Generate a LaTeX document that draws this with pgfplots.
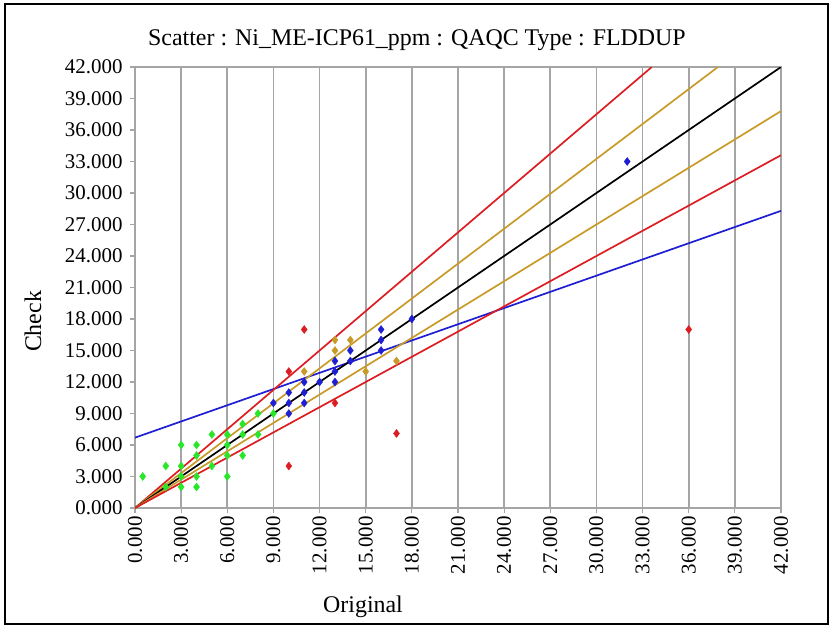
\documentclass[border=0pt]{standalone}
\usepackage{pgfplots}
\pgfplotsset{compat=1.18}
\usepackage{fontspec}
\setmainfont{Liberation Serif}
\definecolor{cred}{RGB}{220,30,35}
\definecolor{cgold}{RGB}{200,155,40}
\definecolor{cblue}{RGB}{30,30,210}
\definecolor{cgreen}{RGB}{40,230,40}
\definecolor{cgrid}{RGB}{165,165,165}
\begin{document}
\begin{tikzpicture}
\begin{axis}[
  scale only axis,
  width=646bp, height=441bp,
  xmin=0, xmax=42, ymin=0, ymax=42,
  xtick={0,3,...,42}, ytick={0,3,...,42},
  clip=true,
  axis line style={cgrid, line width=1.6bp},
  xmajorgrids, major grid style={cgrid, line width=1.8bp},
  tick pos=left, tick align=outside, major tick length=5bp,
  tick style={cgrid, line width=1.2bp},
  /pgf/number format/assume math mode=true,
  /pgf/number format/.cd, fixed, fixed zerofill, precision=3, /pgfplots/.cd,
  ticklabel style={font=\fontsize{21}{24}\selectfont},
  xticklabel style={rotate=90, anchor=east},
  yticklabel style={xshift=-4bp},
  xlabel={Original}, ylabel={Check},
  every axis x label/.style={at={(axis description cs:0.353,-0.224)}, anchor=center, font=\fontsize{24}{28}\selectfont},
  every axis y label/.style={at={(axis description cs:-0.158,0.423)}, anchor=center, rotate=90, font=\fontsize{24}{28}\selectfont},
  title={Scatter : Ni\_ME-ICP61\_ppm : QAQC Type : FLDDUP},
  title style={font=\fontsize{24}{28}\selectfont, at={(axis description cs:0.4365,1.048)}, anchor=center},
  every mark/.append style={xscale=1.2},
]
% reference lines
\addplot[cblue, line width=1.7bp] coordinates {(0,6.7) (42,28.3)};
\addplot[cred, line width=1.7bp] coordinates {(0,0) (33.6,42)};
\addplot[cgold, line width=1.7bp] coordinates {(0,0) (37.9,42)};
\addplot[black, line width=1.7bp] coordinates {(0,0) (42,42)};
\addplot[cgold, line width=1.7bp] coordinates {(0,0) (42,37.8)};
\addplot[cred, line width=1.7bp] coordinates {(0,0) (42,33.6)};
% points
\addplot[only marks, mark=diamond*, mark size=4bp, cgreen] coordinates {
(0.5,3) (2,4) (2,2) (3,6) (3,4) (3,3) (3,2) (4,6) (4,5) (4,3) (4,2)
(5,7) (5,4) (6,7) (6,6) (6,5) (6,3) (7,8) (7,7) (7,5) (8,9) (8,7) (9,9)};
\addplot[only marks, mark=diamond*, mark size=4bp, cblue] coordinates {
(9,10) (10,11) (10,10) (10,9) (11,12) (11,11) (11,10) (12,12) (13,14) (13,13)
(13,12) (14,15) (14,14) (16,17) (16,16) (16,15) (18,18) (32,33)};
\addplot[only marks, mark=diamond*, mark size=4bp, cgold] coordinates {
(11,13) (13,16) (13,15) (14,16) (15,13) (17,14)};
\addplot[only marks, mark=diamond*, mark size=4bp, cred] coordinates {
(10,13) (11,17) (10,4) (13,10) (17,7.1) (36,17)};
\coordinate (bl) at (axis description cs:-0.20898,-0.27438);
\coordinate (tr) at (axis description cs:1.08204,1.15193);
\coordinate (fbl) at (axis description cs:-0.2013,-0.2630);
\coordinate (ftr) at (axis description cs:1.0728,1.1429);
\end{axis}
\pgfresetboundingbox
\path[use as bounding box] (bl) rectangle (tr);
\draw[black, line width=2.6bp] (fbl) rectangle (ftr);
\end{tikzpicture}
\end{document}
